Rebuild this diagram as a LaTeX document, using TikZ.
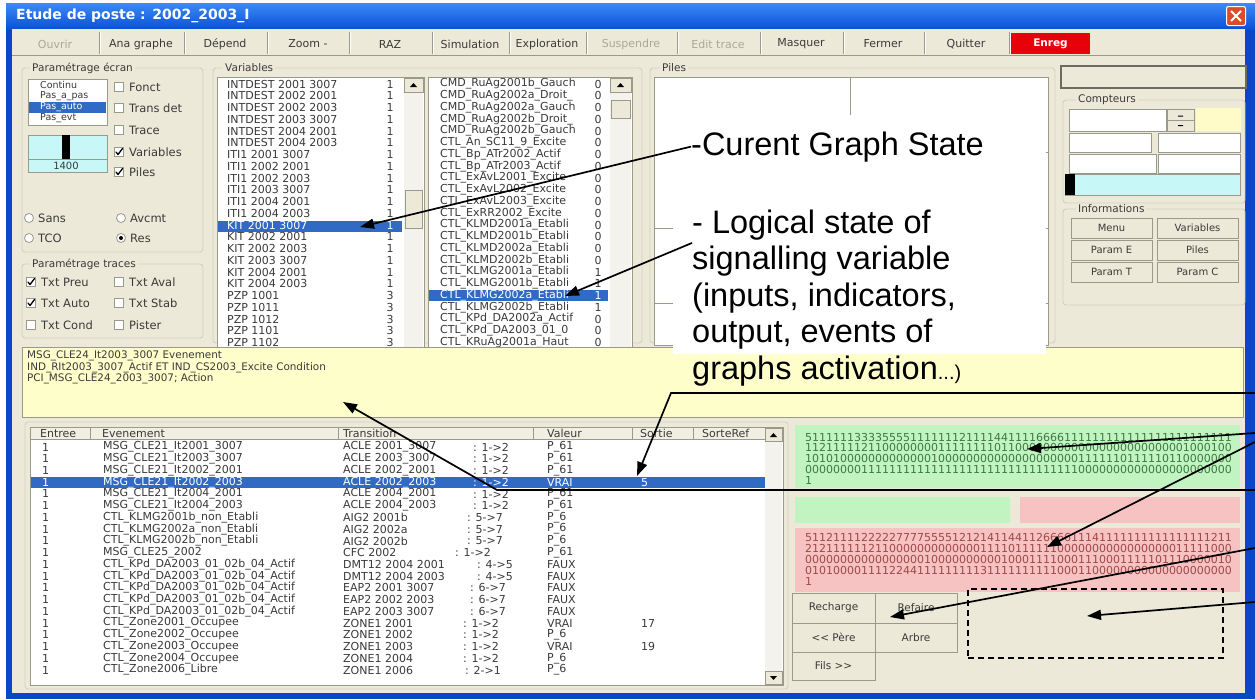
\documentclass[tikz,border=0pt]{standalone}
\usepackage{fontspec}
\setmainfont{DejaVu Sans}
\newfontfamily\annfont{Liberation Sans}
\usetikzlibrary{arrows.meta}

\definecolor{xpbeige}{HTML}{ECE9D8}
\definecolor{winblue}{HTML}{0B46C8}
\definecolor{titletop}{HTML}{3C8AF5}
\definecolor{titlebot}{HTML}{0A50D8}
\definecolor{closered}{HTML}{DA4E27}
\definecolor{selblue}{HTML}{316AC5}
\definecolor{memo}{HTML}{FEFECB}
\definecolor{okfill}{HTML}{C2F4C2}
\definecolor{oktext}{HTML}{3A7A3E}
\definecolor{kofill}{HTML}{F6C2C2}
\definecolor{kotext}{HTML}{A04848}
\definecolor{gauge}{HTML}{C8F7F7}
\definecolor{softyellow}{HTML}{FFFBC8}
\definecolor{disabled}{HTML}{ACA899}
\definecolor{grpline}{HTML}{D0D0BF}
\definecolor{uitext}{HTML}{3A3A3A}
\definecolor{edge}{HTML}{9A9A8C}
\definecolor{track}{HTML}{F3F2EC}
\definecolor{hdrfill}{HTML}{F1EFE2}
\definecolor{savered}{HTML}{E8000B}

\begin{document}
\begin{tikzpicture}[x=1pt,y=-1pt,
  ui/.style={inner sep=0pt,text=uitext,font=\fontsize{11}{12}\selectfont},
  lt/.style={ui,anchor=west},
  optlbl/.style={lt,font=\fontsize{11.5}{12}\selectfont},
  modelbl/.style={lt,font=\fontsize{9.5}{10}\selectfont},
  grp/.style={draw=grpline,line width=0.9pt,rounded corners=3pt},
  grplbl/.style={lt,fill=xpbeige,inner xsep=2pt,inner ysep=1pt,font=\fontsize{10.5}{11}\selectfont},
  sunken/.style={fill=white,draw=edge,line width=0.8pt},
  raised/.style={fill=xpbeige,draw=edge,line width=0.8pt},
  chk/.style={draw=edge,fill=white,line width=0.8pt,minimum size=9pt,inner sep=0pt},
  radio/.style={circle,draw=edge,fill=white,line width=0.8pt,minimum size=9pt,inner sep=0pt},
  chkmark/.style={line width=1.3pt,line cap=round,line join=round},
  tbtn/.style={ui},
  ibtn/.style={raised,inner sep=0pt,minimum width=81pt,minimum height=20pt,text=uitext,font=\fontsize{10}{11}\selectfont},
  pbtn/.style={raised,inner sep=0pt,text=uitext,font=\fontsize{10.5}{11}\selectfont},
  digitrow/.style={inner sep=0pt,anchor=west,font=\fontsize{11}{11}\selectfont},
  memotext/.style={lt,font=\fontsize{10.4}{11}\selectfont},
  ann/.style={inner sep=0pt,anchor=base west,font=\annfont\fontsize{32.5}{36}\selectfont},
  arr/.style={line width=1.7pt,-{Triangle[length=14pt,width=10pt]}},
  dashbox/.style={draw,line width=1.6pt,dash pattern=on 6pt off 4pt,inner sep=0pt}
]
\useasboundingbox (0,0) rectangle (1255,699);

% ---------- window frame and title bar ----------
\fill[white] (0,0) rectangle (1255,699);
\fill[winblue] (6,3) rectangle (1255,699);
\shade[top color=titletop,bottom color=titlebot] (6,3) rectangle (1255,29);
\fill[xpbeige] (12,29) rectangle (1245,693);
\node[anchor=west,inner sep=0pt,text=white,font=\bfseries\fontsize{14}{15}\selectfont] (title) at (16,16) {Etude de poste : 2002\_2003\_I};
\node[fill=closered,draw=white,line width=1pt,rounded corners=2pt,minimum size=19pt,inner sep=0pt] (closeBtn) at (1236,16) {};
\draw[white,line width=2pt] ([shift={(-5,-5)}]closeBtn.center) -- ([shift={(5,5)}]closeBtn.center)
  ([shift={(-5,5)}]closeBtn.center) -- ([shift={(5,-5)}]closeBtn.center);

% ---------- toolbar ----------
\draw[edge] (12,55.5) -- (1245,55.5);
\foreach \sx in {99,184,267,349,432,509,586,677,760,843,924,1009}
  {\draw[edge,line width=1pt] (\sx,32) -- (\sx,54);
   \draw[white,line width=1pt] (\sx+1.2,32) -- (\sx+1.2,54);}
\node[tbtn,text=disabled] (bOuvrir) at (55,44) {Ouvrir};
\node[tbtn] (bAna) at (141,44) {Ana graphe};
\node[tbtn] (bDep) at (225,44) {Dépend};
\node[tbtn] (bZoom) at (308,44) {Zoom -};
\node[tbtn] (bRaz) at (390,44) {RAZ};
\node[tbtn] (bSim) at (470,44) {Simulation};
\node[tbtn] (bExp) at (547,44) {Exploration};
\node[tbtn,text=disabled] (bSus) at (631,44) {Suspendre};
\node[tbtn,text=disabled] (bEdit) at (718,44) {Edit trace};
\node[tbtn] (bMas) at (801,44) {Masquer};
\node[tbtn] (bFer) at (883,44) {Fermer};
\node[tbtn] (bQui) at (966,44) {Quitter};
\node[fill=savered,text=white,inner sep=0pt,minimum width=79pt,minimum height=21pt,font=\bfseries\fontsize{10.5}{11}\selectfont] (bEnreg) at (1050.5,43.5) {Enreg};

% ---------- status box, top right ----------
\draw[fill=xpbeige,draw=edge!70!black,line width=1.2pt] (1061,66) rectangle (1246,88);

% ---------- screen settings ----------
\draw[grp] (22,68) rectangle (203,252);
\node[grplbl] (gEcran) at (30,68) {Paramétrage écran};
\draw[sunken] (28,79) rectangle (107,125);
\node[modelbl] (mCont) at (40,85) {Continu};
\node[modelbl] (mPas) at (40,96) {Pas\_a\_pas};
\fill[selblue] (29,101.5) rectangle (106,112.5);
\node[modelbl,text=white] (mAuto) at (40,107) {Pas\_auto};
\node[modelbl] (mEvt) at (40,118) {Pas\_evt};
\foreach \lab/\yy/\nm in {Fonct/87/Fonct,Trans det/108/Trans,Trace/130/Trace,Variables/152/Vars,Piles/172/Pil}
  {\node[chk] (c\nm) at (119,\yy) {};
   \node[optlbl] (l\nm) at (129,\yy) {\lab};}
\draw[chkmark] ([shift={(-3,0)}]cVars.center) -- ++(2,2.5) -- ++(4.5,-6);
\draw[chkmark] ([shift={(-3,0)}]cPil.center) -- ++(2,2.5) -- ++(4.5,-6);
\draw[fill=gauge,draw=edge] (28,135) rectangle (107,172);
\draw[edge] (28,159) -- (107,159);
\fill[black] (62,135) rectangle (70,159);
\node[ui,font=\fontsize{10}{11}\selectfont] (gaugeVal) at (66,166) {1400};
\node[radio] (rSans) at (29,218) {};
\node[optlbl] (lSans) at (38,218) {Sans};
\node[radio] (rAvc) at (121,218) {};
\node[optlbl] (lAvc) at (130,218) {Avcmt};
\node[radio] (rTco) at (29,238) {};
\node[optlbl] (lTco) at (38,238) {TCO};
\node[radio] (rRes) at (121,238) {};
\node[optlbl] (lRes) at (130,238) {Res};
\fill[black] (rRes.center) circle (2pt);

% ---------- trace settings ----------
\draw[grp] (22,264) rectangle (203,338);
\node[grplbl] (gTraces) at (30,264) {Paramétrage traces};
\foreach \lab/\xx/\yy/\nm in {Txt Preu/31/282/Preu,Txt Aval/119/282/Aval,Txt Auto/31/303/Auto,Txt Stab/119/303/Stab,Txt Cond/31/325/Cond,Pister/119/325/Pist}
  {\node[chk] (c\nm) at (\xx,\yy) {};
   \node[optlbl] (l\nm) at (\xx+10,\yy) {\lab};}
\draw[chkmark] ([shift={(-3,0)}]cPreu.center) -- ++(2,2.5) -- ++(4.5,-6);
\draw[chkmark] ([shift={(-3,0)}]cAuto.center) -- ++(2,2.5) -- ++(4.5,-6);

% ---------- variables ----------
\draw[grp] (213,68) rectangle (642,343);
\node[grplbl] (gVar) at (223,68) {Variables};
\draw[sunken] (217,77) rectangle (424,350);
\fill[selblue] (218,220.5) rectangle (402,231.5);
\foreach \t/\v [count=\i from 0] in {INTDEST 2001 3007/1,INTDEST 2002 2001/1,INTDEST 2002 2003/1,INTDEST 2003 3007/1,INTDEST 2004 2001/1,INTDEST 2004 2003/1,ITI1 2001 3007/1,ITI1 2002 2001/1,ITI1 2002 2003/1,ITI1 2003 3007/1,ITI1 2004 2001/1,ITI1 2004 2003/1,KIT 2001 3007/1,KIT 2002 2001/1,KIT 2002 2003/1,KIT 2003 3007/1,KIT 2004 2001/1,KIT 2004 2003/1,PZP 1001/3,PZP 1011/3,PZP 1012/3,PZP 1101/3,PZP 1102/3}
  {\ifnum\i=12 \def\rc{white}\else\def\rc{uitext}\fi
   \node[lt,text=\rc] (va\i) at (227,{84+11.75*\i}) {\t};
   \node[ui,text=\rc] (vb\i) at (390,{84+11.75*\i}) {\v};}
\fill[track] (404,78) rectangle (423,349);
\draw[raised] (404,78) rectangle (423,92);
\fill[black] (410,87) -- (417,87) -- (413.5,83) -- cycle;
\draw[raised] (405,190) rectangle (422,228);

\draw[sunken] (428,77) rectangle (632,350);
\fill[selblue] (429,290) rectangle (608,301);
\begin{scope}
  \clip (429,78) rectangle (592,349);
  \foreach \t [count=\i from 0] in {CMD\_RuAg2001b\_Gauch,CMD\_RuAg2002a\_Droit\_,CMD\_RuAg2002a\_Gauch,CMD\_RuAg2002b\_Droit\_,CMD\_RuAg2002b\_Gauch,CTL\_An\_SC11\_9\_Excite,CTL\_Bp\_ATr2002\_Actif,CTL\_Bp\_ATr2003\_Actif,CTL\_ExAvL2001\_Excite,CTL\_ExAvL2002\_Excite,CTL\_ExAvL2003\_Excite,CTL\_ExRR2002\_Excite,CTL\_KLMD2001a\_Etabli,CTL\_KLMD2001b\_Etabli,CTL\_KLMD2002a\_Etabli,CTL\_KLMD2002b\_Etabli,CTL\_KLMG2001a\_Etabli,CTL\_KLMG2001b\_Etabli,CTL\_KLMG2002a\_Etabli,CTL\_KLMG2002b\_Etabli,CTL\_KPd\_DA2002a\_Actif,CTL\_KPd\_DA2003\_01\_0,CTL\_KRuAg2001a\_Haut}
    {\ifnum\i=18 \def\rc{white}\else\def\rc{uitext}\fi
     \node[lt,text=\rc] (wa\i) at (440,{84+11.75*\i}) {\t};}
\end{scope}
\foreach \v [count=\i from 0] in {0,0,0,0,0,0,0,0,0,0,0,0,0,0,0,0,1,1,1,1,0,0,0}
  {\ifnum\i=18 \def\rc{white}\else\def\rc{uitext}\fi
   \node[ui,text=\rc] (wb\i) at (598,{84+11.75*\i}) {\v};}
\fill[track] (610,78) rectangle (631,349);
\draw[raised] (610,78) rectangle (631,92);
\fill[black] (617,87) -- (624,87) -- (620.5,83) -- cycle;
\draw[raised] (611,100) rectangle (630,118);

% ---------- stacks ----------
\draw[grp] (650,68) rectangle (1055,343);
\node[grplbl] (gPiles) at (660,68) {Piles};
\draw[sunken] (654,77) rectangle (1048,345);
\draw[edge] (850,77) -- (850,125);
\draw[edge] (654,228) -- (675,228) (654,303) -- (675,303);
\draw[edge] (1040,152) -- (1048,152) (1040,228) -- (1048,228) (1040,303) -- (1048,303);

% ---------- counters ----------
\draw[grp] (1063,100) rectangle (1245,203);
\node[grplbl] (gCompt) at (1076,100) {Compteurs};
\draw[sunken] (1069,109) rectangle (1166,131);
\draw[raised] (1167,109) rectangle (1194,120);
\draw[raised] (1167,120) rectangle (1194,131);
\fill[black] (1178,115.5) rectangle (1183,116.5) (1178,125) rectangle (1183,126);
\fill[softyellow] (1196,108) rectangle (1241,131);
\draw[sunken] (1069,133) rectangle (1151,152);
\draw[sunken] (1158,133) rectangle (1240,152);
\draw[sunken] (1069,154) rectangle (1156,173);
\draw[sunken] (1158,154) rectangle (1240,173);
\draw[fill=gauge,draw=edge] (1065,174) rectangle (1240,195);
\fill[black] (1065,174) rectangle (1075,195);

% ---------- information buttons ----------
\draw[grp] (1063,209) rectangle (1245,305);
\node[grplbl] (gInfo) at (1076,209) {Informations};
\node[ibtn] (iMenu) at (1111.5,228) {Menu};
\node[ibtn] (iVar) at (1197.5,228) {Variables};
\node[ibtn] (iParE) at (1111.5,250) {Param E};
\node[ibtn] (iPiles) at (1197.5,250) {Piles};
\node[ibtn] (iParT) at (1111.5,272) {Param T};
\node[ibtn] (iParC) at (1197.5,272) {Param C};

% ---------- transition memo ----------
\draw[fill=memo,draw=edge] (22,347) rectangle (1243,417);
\node[memotext] (memo1) at (27,356) {MSG\_CLE24\_It2003\_3007 Evenement};
\node[memotext] (memo2) at (27,368) {IND\_RIt2003\_3007\_Actif ET IND\_CS2003\_Excite Condition};
\node[memotext] (memo3) at (27,379) {PCI\_MSG\_CLE24\_2003\_3007; Action};

% ---------- history table ----------
\draw[grp] (25,422) rectangle (788,689);
\draw[fill=white,draw=edge] (30,427) rectangle (783,685);
\fill[hdrfill] (31,428) rectangle (765,439);
\draw[edge] (31,439) -- (765,439);
\foreach \hx in {90,338,533,632,693} \draw[edge] (\hx,428) -- (\hx,439);
\node[lt] (hEntree) at (40,433.5) {Entree};
\node[lt] (hEvt) at (102,433.5) {Evenement};
\node[lt] (hTrans) at (343,433.5) {Transition};
\node[lt] (hVal) at (547,433.5) {Valeur};
\node[lt] (hSortie) at (640,433.5) {Sortie};
\node[lt] (hRef) at (702,433.5) {SorteRef};
\fill[track] (765,428) rectangle (782,684);
\draw[raised] (765,428) rectangle (782,441);
\draw[raised] (765,671) rectangle (782,684);
\fill[black] (770,437) -- (777,437) -- (773.5,433) -- cycle;
\fill[black] (770,676) -- (777,676) -- (773.5,680) -- cycle;
\fill[selblue] (31,476.5) rectangle (765,487.5);
\foreach \ev/\tr/\tx/\tp/\va/\so [count=\j from 0] in {
  MSG\_CLE21\_It2001\_3007/ACLE 2001\_3007/473/: 1->2/P\_61/{},
  MSG\_CLE21\_It2003\_3007/ACLE 2003\_3007/473/: 1->2/P\_61/{},
  MSG\_CLE21\_It2002\_2001/ACLE 2002\_2001/473/: 1->2/P\_61/{},
  MSG\_CLE21\_It2002\_2003/ACLE 2002\_2003/473/: 1->2/VRAI/5,
  MSG\_CLE21\_It2004\_2001/ACLE 2004\_2001/473/: 1->2/P\_61/{},
  MSG\_CLE21\_It2004\_2003/ACLE 2004\_2003/473/: 1->2/P\_61/{},
  CTL\_KLMG2001b\_non\_Etabli/AIG2 2001b/467/: 5->7/P\_6/{},
  CTL\_KLMG2002a\_non\_Etabli/AIG2 2002a/467/: 5->7/P\_6/{},
  CTL\_KLMG2002b\_non\_Etabli/AIG2 2002b/467/: 5->7/P\_6/{},
  MSG\_CLE25\_2002/CFC 2002/455/: 1->2/P\_61/{},
  CTL\_KPd\_DA2003\_01\_02b\_04\_Actif/DMT12 2004 2001/477/: 4->5/FAUX/{},
  CTL\_KPd\_DA2003\_01\_02b\_04\_Actif/DMT12 2004 2003/477/: 4->5/FAUX/{},
  CTL\_KPd\_DA2003\_01\_02b\_04\_Actif/EAP2 2001 3007/470/: 6->7/FAUX/{},
  CTL\_KPd\_DA2003\_01\_02b\_04\_Actif/EAP2 2002 2003/470/: 6->7/FAUX/{},
  CTL\_KPd\_DA2003\_01\_02b\_04\_Actif/EAP2 2003 3007/470/: 6->7/FAUX/{},
  CTL\_Zone2001\_Occupee/ZONE1 2001/463/: 1->2/VRAI/17,
  CTL\_Zone2002\_Occupee/ZONE1 2002/463/: 1->2/P\_6/{},
  CTL\_Zone2003\_Occupee/ZONE1 2003/463/: 1->2/VRAI/19,
  CTL\_Zone2004\_Occupee/ZONE1 2004/463/: 1->2/P\_6/{},
  CTL\_Zone2006\_Libre/ZONE1 2006/465/: 2->1/P\_6/{}}
  {\ifnum\j=3 \def\rc{white}\else\def\rc{uitext}\fi
   \node[lt,text=\rc] (n\j) at (42,{447+11.74*\j}) {1};
   \node[lt,text=\rc] (e\j) at (103,{447+11.74*\j}) {\ev};
   \node[lt,text=\rc] (t\j) at (343,{447+11.74*\j}) {\tr};
   \node[lt,text=\rc] (p\j) at (\tx,{447+11.74*\j}) {\tp};
   \node[lt,text=\rc] (v\j) at (547,{447+11.74*\j}) {\va};
   \node[lt,text=\rc] (s\j) at (641,{447+11.74*\j}) {\so};}

% ---------- graph states ----------
\fill[okfill] (795,425) rectangle (1240,488);
\foreach \s [count=\k from 0] in {5111111333355551111111211114411116666111111111111111111111111,
  1121111121100000000111111110110000000000000000000000001000100,
  1010100000000000001000000000000000000001111110111110110000000,
  0000000011111111111111111111111111111110000000000000000000000,1}
  {\node[digitrow,text=oktext] (ok\k) at (805,{437+10.8*\k}) {\s};}
\fill[okfill] (795,497) rectangle (1010,523);
\fill[kofill] (1020,497) rectangle (1240,523);
\fill[kofill] (795,528) rectangle (1240,592);
\foreach \s [count=\k from 0] in {5112111122222777755551212141144112666611141111111111111111211,
  2121111112110000000000000111101111110000000000000000011111000,
  0000000000000000010000000000100011110001110001111101110000010,
  0101000011112244111111111311111111110001100000000000000000000,1}
  {\node[digitrow,text=kotext] (ko\k) at (805,{537+11.1*\k}) {\s};}

\node[pbtn,minimum width=83pt,minimum height=30pt] (bRecharge) at (833.5,608) {Recharge};
\node[pbtn,minimum width=82pt,minimum height=30pt] (bRefaire) at (916,608) {Refaire};
\node[pbtn,minimum width=83pt,minimum height=29pt] (bPere) at (833.5,637.5) {<\kern0pt< Père};
\node[pbtn,minimum width=82pt,minimum height=29pt] (bArbre) at (916,637.5) {Arbre};
\node[pbtn,minimum width=83pt,minimum height=28pt] (bFils) at (833.5,666) {Fils >\kern0pt>};
\node[dashbox,minimum width=255pt,minimum height=69pt] (dbox) at (1095.5,623.5) {};

% ---------- annotations ----------
\fill[white] (673,115) rectangle (1046,354);
\node[ann] (aState) at (691,155) {-Curent Graph State};
\node[ann] (aLog1) at (692,233) {- Logical state of};
\node[ann] (aLog2) at (692,269.5) {signalling variable};
\node[ann] (aLog3) at (692,306) {(inputs, indicators,};
\node[ann] (aLog4) at (692,342.5) {output, events of};
\node[ann] (aLog5) at (692,379) {graphs activation{\fontsize{20}{20}\selectfont...)}};

\coordinate (kitRow) at (360,227);
\coordinate (klmgRow) at (565,296);
\coordinate (memoPt) at (343,402);
\coordinate (sortiePt) at (637,476);
\coordinate (okPt) at (1027,449);
\coordinate (koPt) at (1047,547);
\coordinate (refPt) at (890,617);
\coordinate (dashPt) at (1087,616);
\coordinate (eMemo) at (1255,490);
\coordinate (kMemo) at (497,490);
\coordinate (eSortie) at (1255,393);
\coordinate (kSortie) at (671,393);
\coordinate (eOk) at (1255,433);
\coordinate (eKo) at (1255,442);
\coordinate (eRef) at (1255,548);
\coordinate (eDash) at (1255,602);

\draw[arr] (aState.west) -- (kitRow);
\draw[arr] ([yshift=-3pt]aLog1.south west) -- (klmgRow);
\draw[arr] (eSortie) -- (kSortie) -- (sortiePt);
\draw[arr] (eMemo) -- (kMemo) -- (memoPt);
\draw[arr] (eOk) -- (okPt);
\draw[arr] (eKo) -- (koPt);
\draw[arr] (eRef) -- (refPt);
\draw[arr] (eDash) -- (dashPt);
\end{tikzpicture}
\end{document}
